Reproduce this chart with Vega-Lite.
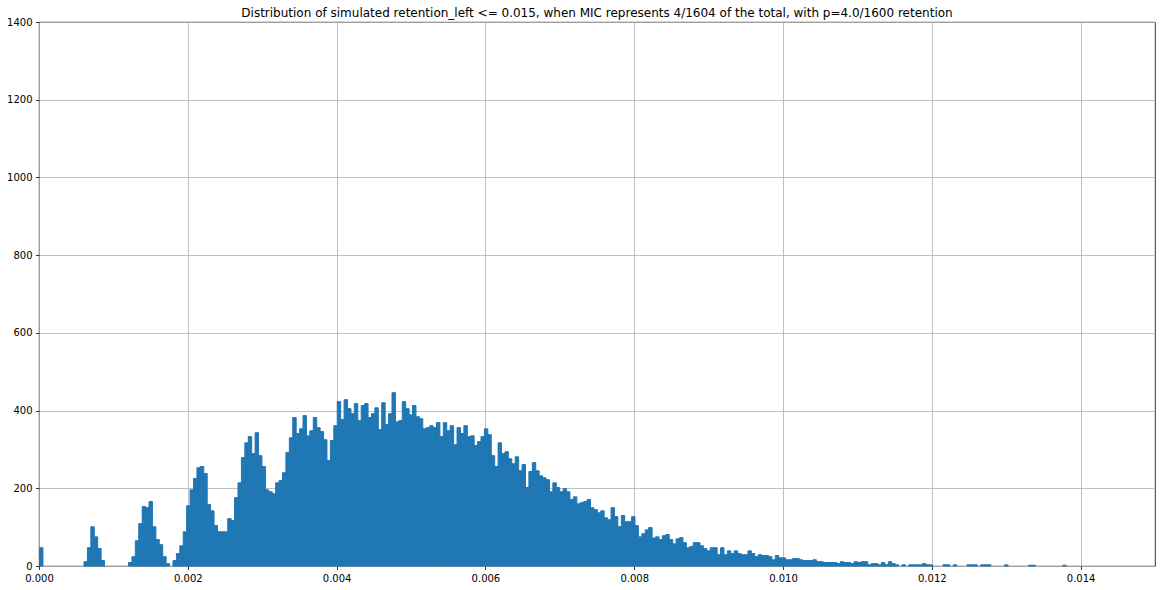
{
  "$schema": "https://vega.github.io/schema/vega-lite/v6.json",
  "width": 1116,
  "height": 544,
  "autosize": {"type": "none"},
  "padding": {"left": 39, "top": 22, "right": 7, "bottom": 24},
  "background": "white",
  "config": {
    "font": "DejaVu Sans",
    "view": {"stroke": "black", "strokeWidth": 0.8},
    "axis": {
      "domain": false,
      "grid": true,
      "gridColor": "#b0b0b0",
      "gridWidth": 0.8,
      "tickColor": "black",
      "tickWidth": 0.8,
      "tickSize": 3.5,
      "labelFont": "DejaVu Sans",
      "labelFontSize": 10,
      "labelColor": "black",
      "labelPadding": 3.5,
      "zindex": 1
    },
    "title": {"font": "DejaVu Sans", "fontSize": 12, "fontWeight": "normal", "color": "black", "offset": 0, "dy": 7}
  },
  "title": "Distribution of simulated retention_left <= 0.015, when MIC represents 4/1604 of the total, with p=4.0/1600 retention",
  "data": {"values": [
    {"x": 0.000023, "n": 47},
    {"x": 0.000621, "n": 11},
    {"x": 0.000667, "n": 47},
    {"x": 0.000713, "n": 101},
    {"x": 0.000759, "n": 75},
    {"x": 0.000805, "n": 45},
    {"x": 0.000851, "n": 14},
    {"x": 0.001219, "n": 9},
    {"x": 0.001265, "n": 24},
    {"x": 0.001311, "n": 65},
    {"x": 0.001357, "n": 109},
    {"x": 0.001403, "n": 153},
    {"x": 0.001449, "n": 150},
    {"x": 0.001495, "n": 166},
    {"x": 0.001541, "n": 101},
    {"x": 0.001587, "n": 68},
    {"x": 0.001633, "n": 55},
    {"x": 0.001679, "n": 24},
    {"x": 0.001725, "n": 6},
    {"x": 0.001817, "n": 14},
    {"x": 0.001863, "n": 32},
    {"x": 0.001909, "n": 52},
    {"x": 0.001955, "n": 88},
    {"x": 0.002001, "n": 155},
    {"x": 0.002047, "n": 196},
    {"x": 0.002093, "n": 225},
    {"x": 0.002139, "n": 253},
    {"x": 0.002185, "n": 256},
    {"x": 0.002231, "n": 238},
    {"x": 0.002277, "n": 158},
    {"x": 0.002323, "n": 142},
    {"x": 0.002369, "n": 104},
    {"x": 0.002415, "n": 88},
    {"x": 0.002461, "n": 88},
    {"x": 0.002507, "n": 88},
    {"x": 0.002553, "n": 122},
    {"x": 0.002599, "n": 117},
    {"x": 0.002645, "n": 176},
    {"x": 0.002691, "n": 214},
    {"x": 0.002737, "n": 279},
    {"x": 0.002783, "n": 317},
    {"x": 0.002829, "n": 333},
    {"x": 0.002875, "n": 289},
    {"x": 0.002921, "n": 343},
    {"x": 0.002967, "n": 284},
    {"x": 0.003013, "n": 256},
    {"x": 0.003059, "n": 196},
    {"x": 0.003105, "n": 191},
    {"x": 0.003151, "n": 186},
    {"x": 0.003197, "n": 214},
    {"x": 0.003243, "n": 220},
    {"x": 0.003289, "n": 240},
    {"x": 0.003335, "n": 292},
    {"x": 0.003381, "n": 330},
    {"x": 0.003427, "n": 382},
    {"x": 0.003473, "n": 341},
    {"x": 0.003519, "n": 353},
    {"x": 0.003565, "n": 387},
    {"x": 0.003611, "n": 335},
    {"x": 0.003657, "n": 348},
    {"x": 0.003703, "n": 382},
    {"x": 0.003749, "n": 356},
    {"x": 0.003795, "n": 346},
    {"x": 0.003841, "n": 325},
    {"x": 0.003887, "n": 271},
    {"x": 0.003933, "n": 323},
    {"x": 0.003979, "n": 361},
    {"x": 0.004025, "n": 423},
    {"x": 0.004071, "n": 377},
    {"x": 0.004117, "n": 428},
    {"x": 0.004163, "n": 405},
    {"x": 0.004209, "n": 392},
    {"x": 0.004255, "n": 418},
    {"x": 0.004301, "n": 374},
    {"x": 0.004347, "n": 413},
    {"x": 0.004393, "n": 418},
    {"x": 0.004439, "n": 382},
    {"x": 0.004485, "n": 392},
    {"x": 0.004531, "n": 407},
    {"x": 0.004577, "n": 351},
    {"x": 0.004623, "n": 420},
    {"x": 0.004669, "n": 364},
    {"x": 0.004715, "n": 392},
    {"x": 0.004761, "n": 446},
    {"x": 0.004807, "n": 371},
    {"x": 0.004853, "n": 374},
    {"x": 0.004899, "n": 423},
    {"x": 0.004945, "n": 405},
    {"x": 0.004991, "n": 389},
    {"x": 0.005037, "n": 413},
    {"x": 0.005083, "n": 384},
    {"x": 0.005129, "n": 379},
    {"x": 0.005175, "n": 353},
    {"x": 0.005221, "n": 356},
    {"x": 0.005267, "n": 361},
    {"x": 0.005313, "n": 356},
    {"x": 0.005359, "n": 369},
    {"x": 0.005405, "n": 333},
    {"x": 0.005451, "n": 369},
    {"x": 0.005497, "n": 348},
    {"x": 0.005543, "n": 361},
    {"x": 0.005589, "n": 312},
    {"x": 0.005635, "n": 356},
    {"x": 0.005681, "n": 341},
    {"x": 0.005727, "n": 361},
    {"x": 0.005773, "n": 333},
    {"x": 0.005819, "n": 335},
    {"x": 0.005865, "n": 310},
    {"x": 0.005911, "n": 320},
    {"x": 0.005957, "n": 333},
    {"x": 0.006003, "n": 353},
    {"x": 0.006049, "n": 338},
    {"x": 0.006095, "n": 284},
    {"x": 0.006141, "n": 256},
    {"x": 0.006187, "n": 317},
    {"x": 0.006233, "n": 289},
    {"x": 0.006279, "n": 294},
    {"x": 0.006325, "n": 276},
    {"x": 0.006371, "n": 263},
    {"x": 0.006417, "n": 281},
    {"x": 0.006463, "n": 245},
    {"x": 0.006509, "n": 261},
    {"x": 0.006555, "n": 202},
    {"x": 0.006601, "n": 243},
    {"x": 0.006647, "n": 266},
    {"x": 0.006693, "n": 245},
    {"x": 0.006739, "n": 232},
    {"x": 0.006785, "n": 227},
    {"x": 0.006831, "n": 222},
    {"x": 0.006877, "n": 191},
    {"x": 0.006923, "n": 214},
    {"x": 0.006969, "n": 202},
    {"x": 0.007015, "n": 191},
    {"x": 0.007061, "n": 199},
    {"x": 0.007107, "n": 191},
    {"x": 0.007153, "n": 171},
    {"x": 0.007199, "n": 178},
    {"x": 0.007245, "n": 160},
    {"x": 0.007291, "n": 163},
    {"x": 0.007337, "n": 166},
    {"x": 0.007383, "n": 171},
    {"x": 0.007429, "n": 150},
    {"x": 0.007475, "n": 145},
    {"x": 0.007521, "n": 137},
    {"x": 0.007567, "n": 142},
    {"x": 0.007613, "n": 124},
    {"x": 0.007659, "n": 119},
    {"x": 0.007705, "n": 150},
    {"x": 0.007751, "n": 127},
    {"x": 0.007797, "n": 101},
    {"x": 0.007843, "n": 130},
    {"x": 0.007889, "n": 114},
    {"x": 0.007935, "n": 114},
    {"x": 0.007981, "n": 127},
    {"x": 0.008027, "n": 104},
    {"x": 0.008073, "n": 75},
    {"x": 0.008119, "n": 83},
    {"x": 0.008165, "n": 93},
    {"x": 0.008211, "n": 99},
    {"x": 0.008257, "n": 72},
    {"x": 0.008303, "n": 75},
    {"x": 0.008349, "n": 68},
    {"x": 0.008395, "n": 78},
    {"x": 0.008441, "n": 81},
    {"x": 0.008487, "n": 68},
    {"x": 0.008533, "n": 57},
    {"x": 0.008579, "n": 70},
    {"x": 0.008625, "n": 73},
    {"x": 0.008671, "n": 60},
    {"x": 0.008717, "n": 47},
    {"x": 0.008763, "n": 50},
    {"x": 0.008809, "n": 60},
    {"x": 0.008855, "n": 60},
    {"x": 0.008901, "n": 52},
    {"x": 0.008947, "n": 45},
    {"x": 0.008993, "n": 39},
    {"x": 0.009039, "n": 47},
    {"x": 0.009085, "n": 47},
    {"x": 0.009131, "n": 29},
    {"x": 0.009177, "n": 47},
    {"x": 0.009223, "n": 29},
    {"x": 0.009269, "n": 39},
    {"x": 0.009315, "n": 32},
    {"x": 0.009361, "n": 39},
    {"x": 0.009407, "n": 32},
    {"x": 0.009453, "n": 29},
    {"x": 0.009499, "n": 29},
    {"x": 0.009545, "n": 39},
    {"x": 0.009591, "n": 32},
    {"x": 0.009637, "n": 24},
    {"x": 0.009683, "n": 29},
    {"x": 0.009729, "n": 27},
    {"x": 0.009775, "n": 27},
    {"x": 0.009821, "n": 24},
    {"x": 0.009867, "n": 16},
    {"x": 0.009913, "n": 27},
    {"x": 0.009959, "n": 21},
    {"x": 0.010005, "n": 21},
    {"x": 0.010051, "n": 16},
    {"x": 0.010097, "n": 16},
    {"x": 0.010143, "n": 19},
    {"x": 0.010189, "n": 19},
    {"x": 0.010235, "n": 16},
    {"x": 0.010281, "n": 14},
    {"x": 0.010327, "n": 14},
    {"x": 0.010373, "n": 14},
    {"x": 0.010419, "n": 16},
    {"x": 0.010465, "n": 11},
    {"x": 0.010511, "n": 11},
    {"x": 0.010557, "n": 9},
    {"x": 0.010603, "n": 9},
    {"x": 0.010649, "n": 9},
    {"x": 0.010695, "n": 9},
    {"x": 0.010741, "n": 6},
    {"x": 0.010787, "n": 11},
    {"x": 0.010833, "n": 9},
    {"x": 0.010879, "n": 9},
    {"x": 0.010925, "n": 6},
    {"x": 0.010971, "n": 11},
    {"x": 0.011017, "n": 9},
    {"x": 0.011063, "n": 11},
    {"x": 0.011109, "n": 11},
    {"x": 0.011155, "n": 3},
    {"x": 0.011201, "n": 6},
    {"x": 0.011247, "n": 6},
    {"x": 0.011293, "n": 3},
    {"x": 0.011339, "n": 9},
    {"x": 0.011385, "n": 3},
    {"x": 0.011431, "n": 11},
    {"x": 0.011477, "n": 6},
    {"x": 0.011523, "n": 3},
    {"x": 0.011615, "n": 3},
    {"x": 0.011707, "n": 3},
    {"x": 0.011753, "n": 3},
    {"x": 0.011799, "n": 3},
    {"x": 0.011845, "n": 3},
    {"x": 0.011891, "n": 6},
    {"x": 0.011937, "n": 3},
    {"x": 0.011983, "n": 3},
    {"x": 0.012167, "n": 3},
    {"x": 0.012213, "n": 3},
    {"x": 0.012305, "n": 3},
    {"x": 0.012489, "n": 3},
    {"x": 0.012535, "n": 3},
    {"x": 0.012581, "n": 3},
    {"x": 0.012673, "n": 3},
    {"x": 0.012719, "n": 3},
    {"x": 0.012765, "n": 3},
    {"x": 0.012995, "n": 3},
    {"x": 0.013317, "n": 2},
    {"x": 0.013363, "n": 2},
    {"x": 0.013777, "n": 2}
  ]},
  "mark": {"type": "bar", "color": "#1f77b4", "binSpacing": 0, "stroke": "#1f77b4", "strokeWidth": 1},
  "encoding": {
    "x": {
      "field": "x",
      "type": "quantitative",
      "bin": {"step": 0.000046, "extent": [0, 0.0138], "nice": false},
      "scale": {"domain": [0, 0.015], "nice": false, "zero": false},
      "axis": {"title": null, "values": [0, 0.002, 0.004, 0.006, 0.008, 0.01, 0.012, 0.014], "format": ".3f", "labelFlush": false}
    },
    "y": {
      "aggregate": "sum",
      "field": "n",
      "type": "quantitative",
      "scale": {"domain": [0, 1400], "nice": false},
      "axis": {"title": null, "values": [0, 200, 400, 600, 800, 1000, 1200, 1400], "format": "d"}
    }
  }
}
